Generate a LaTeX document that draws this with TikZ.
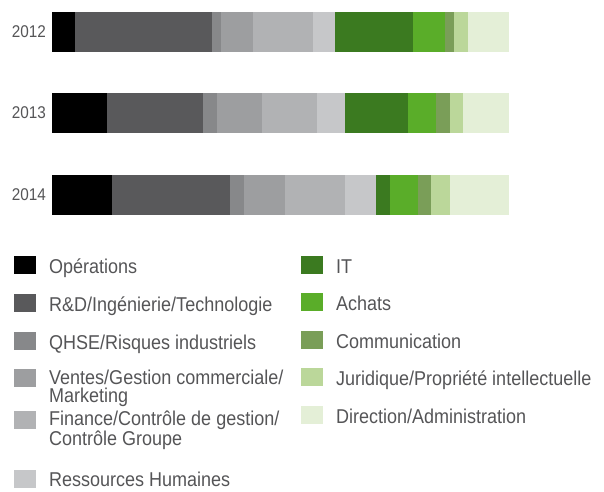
\documentclass[tikz,border=0pt]{standalone}
\usepackage{fontspec}
\setmainfont{Liberation Sans}[FakeStretch=0.9]
\usepackage{tikz}

\definecolor{txtgray}{RGB}{85,85,87}
\definecolor{ops}{RGB}{0,0,0}
\definecolor{rnd}{RGB}{89,89,91}
\definecolor{qhse}{RGB}{135,136,138}
\definecolor{ventes}{RGB}{157,158,160}
\definecolor{finance}{RGB}{177,178,180}
\definecolor{rh}{RGB}{198,199,201}
\definecolor{it}{RGB}{59,122,32}
\definecolor{achats}{RGB}{90,173,41}
\definecolor{comm}{RGB}{122,158,88}
\definecolor{jur}{RGB}{187,215,154}
\definecolor{dir}{RGB}{228,239,215}

\begin{document}
\begin{tikzpicture}[x=1pt,y=-1pt]

        \useasboundingbox (0,0) rectangle (604,491);

        % years
        \begin{scope}[every node/.style={anchor=east, inner sep=0pt, text=txtgray,
            font=\fontsize{17}{17}\selectfont}]
          \node (y12) at (46,32)  {2012};
          \node (y13) at (46,113) {2013};
          \node (y14) at (46,195) {2014};
        \end{scope}

        % bars
        \foreach \a/\b/\c in {52/75/ops, 75/212/rnd, 212/221/qhse, 221/253/ventes,
            253/313/finance, 313/335/rh, 335/413/it, 413/445/achats, 445/454/comm,
            454/468/jur, 468/509/dir}
          \fill[\c] (\a,12) rectangle (\b,52);

        \foreach \a/\b/\c in {52/107/ops, 107/203/rnd, 203/217/qhse, 217/262/ventes,
            262/317/finance, 317/345/rh, 345/408/it, 408/436/achats, 436/450/comm,
            450/463/jur, 463/509/dir}
          \fill[\c] (\a,93) rectangle (\b,133);

        \foreach \a/\b/\c in {52/112/ops, 112/230/rnd, 230/244/qhse, 244/285/ventes,
            285/345/finance, 345/376/rh, 376/390/it, 390/418/achats, 418/431/comm,
            431/450/jur, 450/509/dir}
          \fill[\c] (\a,175) rectangle (\b,215);

        % legend
        \begin{scope}[every node/.style={minimum width=22pt, minimum height=18pt,
            inner sep=0pt, anchor=west}]
          \node[fill=ops]     (k1)  at (14,265) {};
          \node[fill=rnd]     (k2)  at (14,303) {};
          \node[fill=qhse]    (k3)  at (14,341) {};
          \node[fill=ventes]  (k4)  at (14,378) {};
          \node[fill=finance] (k5)  at (14,420) {};
          \node[fill=rh]      (k6)  at (14,479) {};
          \node[fill=it]      (k7)  at (301,265) {};
          \node[fill=achats]  (k8)  at (301,302) {};
          \node[fill=comm]    (k9)  at (301,340) {};
          \node[fill=jur]     (k10) at (301,377) {};
          \node[fill=dir]     (k11) at (301,415) {};
        \end{scope}

        % last baseline of each text
        \begin{scope}[every node/.style={anchor=base west, inner sep=0pt, align=left,
            text=txtgray, font=\fontsize{20}{17.5}\selectfont}]
          \node (t1)  at (49,273)  {Opérations};
          \node (t2)  at (49,311)  {R\&D/Ingénierie/Technologie};
          \node (t3)  at (49,349)  {QHSE/Risques industriels};
          \node (t4)  at (49,402)  {Ventes/Gestion commerciale/\\Marketing};
          \node (t5)  at (49,445)  {Finance/Contrôle de gestion/\\Contrôle Groupe};
          \node (t6)  at (49,486)  {Ressources Humaines};
          \node (t7)  at (336,273) {IT};
          \node (t8)  at (336,310) {Achats};
          \node (t9)  at (336,348) {Communication};
          \node (t10) at (336,385) {Juridique/Propriété intellectuelle};
          \node (t11) at (336,423) {Direction/Administration};
        \end{scope}

      \end{tikzpicture}
\end{document}
